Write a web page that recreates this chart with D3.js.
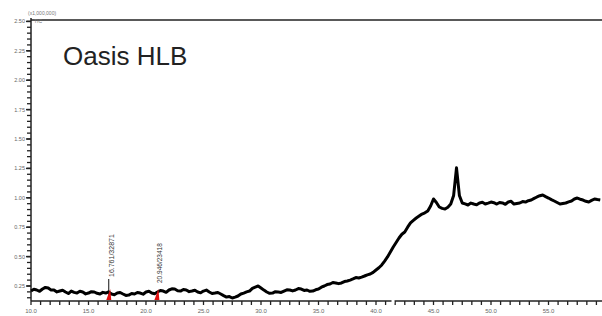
<!DOCTYPE html>
<html><head><meta charset="utf-8">
<script src="https://cdn.jsdelivr.net/npm/d3@7/dist/d3.min.js"></script>
<style>body{margin:0;background:#fff}svg{display:block}</style>
</head><body>
<svg id="c" width="602" height="316"></svg>
<script>
const timeStart = 10, timeStep = 0.25;
const intensity = [
0.207,0.222,0.216,0.205,0.224,0.238,0.233,0.215,0.216,0.200,0.207,0.214,0.199,0.186,0.207,0.196,0.190,0.205,0.199,0.183,
0.190,0.202,0.199,0.188,0.182,0.196,0.190,0.200,0.182,0.176,0.190,0.195,0.182,0.170,0.173,0.186,0.182,0.195,0.190,0.180,
0.199,0.205,0.190,0.184,0.199,0.212,0.207,0.196,0.216,0.226,0.224,0.210,0.207,0.220,0.216,0.202,0.207,0.214,0.199,0.192,
0.207,0.215,0.199,0.186,0.190,0.195,0.182,0.168,0.156,0.160,0.148,0.155,0.165,0.182,0.190,0.200,0.207,0.230,0.241,0.250,
0.233,0.215,0.199,0.188,0.190,0.202,0.199,0.195,0.207,0.218,0.216,0.208,0.216,0.228,0.224,0.212,0.216,0.205,0.207,0.218,
0.224,0.240,0.250,0.262,0.267,0.280,0.276,0.270,0.276,0.288,0.293,0.300,0.310,0.322,0.318,0.326,0.335,0.345,0.352,0.366,
0.386,0.405,0.429,0.462,0.497,0.540,0.582,0.620,0.658,0.690,0.709,0.750,0.786,0.808,0.828,0.845,0.862,0.872,0.888,0.930,
0.990,0.960,0.922,0.910,0.905,0.920,0.947,1.020,1.255,1.020,0.956,0.948,0.939,0.955,0.947,0.940,0.956,0.962,0.947,0.955,
0.964,0.958,0.947,0.960,0.956,0.945,0.964,0.970,0.947,0.952,0.956,0.968,0.964,0.975,0.981,0.995,1.007,1.018,1.024,1.010,
0.998,0.985,0.973,0.960,0.947,0.952,0.956,0.965,0.973,0.990,0.998,0.988,0.981,0.970,0.964,0.978,0.990,0.985,0.981];
const yTicks = [0.25,0.50,0.75,1.00,1.25,1.50,1.75,2.00,2.25,2.50];
const xTicks = [10,15,20,25,30,35,40,45,50,55];
const peakTimes = [16.761, 20.946];
const peakLabels = ["16.761/32871", "20.946/23418"];
const title = "Oasis HLB";
const scaleLabel = "(x1,000,000)";
const traceLabel = "TIC";

const svg = d3.select("#c");
const L = 31, R = 602, T = 20, B = 301;
const x = d3.scaleLinear().domain([10, 10 + (R - L) / 11.5]).range([L, R]);
const y = d3.scaleLinear().domain([0.25 - 15/117.6, 0.25 + (286 - T)/117.6]).range([B, T]);
const FONT = "Liberation Sans, Arial, sans-serif";

const g = svg.append("g");
const yMinor = d3.range(0.15, 2.5001, 0.05);
g.selectAll(".ym").data(yMinor).join("line")
  .attr("x1", L - 4).attr("x2", L).attr("y1", d => y(d)).attr("y2", d => y(d))
  .attr("stroke", "#222").attr("stroke-width", 1.3);
g.selectAll(".yM").data(yTicks).join("line")
  .attr("x1", L - 5).attr("x2", L).attr("y1", d => y(d)).attr("y2", d => y(d))
  .attr("stroke", "#222").attr("stroke-width", 1.5);
g.selectAll(".yl").data(yTicks).join("text")
  .attr("x", L - 6).attr("y", d => y(d) + 2).attr("text-anchor", "end")
  .attr("font-family", FONT).attr("font-size", 5.5)
  .attr("fill", "#666").text(d => d.toFixed(2));

const xMinor = d3.range(0, 60).map(i => 10 + i * 5/6).filter(t => t <= x.domain()[1]);
g.selectAll(".xm").data(xMinor).join("line")
  .attr("x1", d => x(d)).attr("x2", d => x(d)).attr("y1", B).attr("y2", B + 4)
  .attr("stroke", "#222").attr("stroke-width", 1.3);
g.selectAll(".xl").data(xTicks).join("text")
  .attr("x", d => x(d)).attr("y", B + 12).attr("text-anchor", "middle")
  .attr("font-family", FONT).attr("font-size", 6)
  .attr("fill", "#666").text(d => d.toFixed(1));

g.append("line").attr("x1", L).attr("x2", R).attr("y1", T).attr("y2", T).attr("stroke", "#222").attr("stroke-width", 1.5);
g.append("line").attr("x1", L).attr("x2", L).attr("y1", T - 2).attr("y2", B).attr("stroke", "#222").attr("stroke-width", 1.5);
g.append("line").attr("x1", L).attr("x2", R).attr("y1", B).attr("y2", B).attr("stroke", "#222").attr("stroke-width", 1.5);
g.append("rect").attr("x", x(41.35)).attr("y", B - 1.5).attr("width", 3).attr("height", 3).attr("fill", "#fff");

g.append("text").attr("x", 28).attr("y", 15).attr("font-family", FONT)
  .attr("font-size", 5).attr("fill", "#777").text(scaleLabel);
g.append("text").attr("x", 34).attr("y", 23).attr("font-family", FONT)
  .attr("font-size", 5).attr("fill", "#777").text(traceLabel);

const data = intensity.map((v, i) => [timeStart + i * timeStep, v]);
const line = d3.line().x(d => x(d[0])).y(d => y(d[1]));
g.append("path").datum(data).attr("d", line).attr("fill", "none")
  .attr("stroke", "#000").attr("stroke-width", 3).attr("stroke-linejoin", "round");

peakTimes.forEach((t, i) => {
  const px = x(t);
  if (i === 0) g.append("line").attr("x1", px).attr("x2", px).attr("y1", 298).attr("y2", 279).attr("stroke", "#111").attr("stroke-width", 1);
  g.append("path").attr("d", `M${px-2.5},300 L${px+1.5},289 L${px+2.5},300 Z`).attr("fill", "#e01010");
  g.append("text").attr("transform", `translate(${px + 5},${i === 0 ? 277 : 283}) rotate(-90)`)
    .attr("font-family", FONT).attr("font-size", i === 0 ? 7 : 6.5)
    .attr("fill", "#333").text(peakLabels[i]);
});

g.append("text").attr("x", 63).attr("y", 65).attr("font-family", FONT)
  .attr("font-size", 26).attr("fill", "#222").text(title);
</script>
</body></html>
